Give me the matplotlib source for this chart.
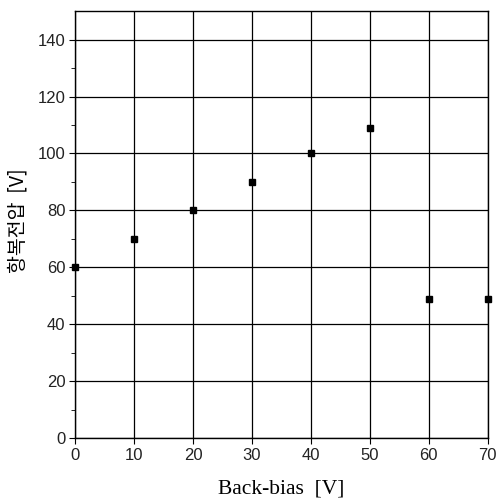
import numpy as np
import matplotlib
matplotlib.use("Agg")
import matplotlib.pyplot as plt

back_bias = [0, 10, 20, 30, 40, 50, 60, 70]
breakdown = [60, 70, 80, 90, 100, 109, 49, 49]

x_ticks = [0, 10, 20, 30, 40, 50, 60, 70]
y_ticks = [0, 20, 40, 60, 80, 100, 120, 140]

fig = plt.figure(figsize=(4.98, 5.01), dpi=100)
ax = fig.add_axes([0.1506, 0.1257, 0.829, 0.852])

ax.plot(back_bias, breakdown, 's', color='black', markersize=5, clip_on=False, zorder=5)

ax.set_xlim(0, 70)
ax.set_ylim(0, 150)
ax.set_xticks(x_ticks)
ax.set_yticks(y_ticks)
ax.set_yticks(np.arange(10, 150, 20), minor=True)
ax.grid(True, which='major', color='black', linewidth=0.9)
ax.set_axisbelow(True)

for s in ax.spines.values():
    s.set_linewidth(1.0)

ax.tick_params(axis='both', which='major', direction='out', length=4, labelsize=12,
               labelcolor='#222222', pad=3)
ax.tick_params(axis='y', which='minor', direction='out', length=3)
for lab in ax.get_xticklabels() + ax.get_yticklabels():
    lab.set_family('Liberation Sans')

ax.set_xlabel('Back-bias  [V]', family='Liberation Serif', fontsize=15.5, labelpad=12)
ax.set_ylabel('항복전압  [V]', family=['Noto Sans CJK KR', 'DejaVu Sans'], fontsize=14,
              labelpad=10)
ax.yaxis.set_label_coords(-0.112, 0.51)

fig.savefig('out.png', dpi=100)
